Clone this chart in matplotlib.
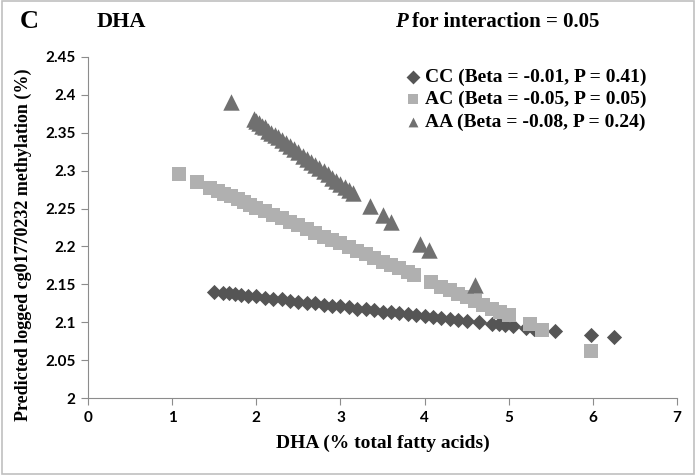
import numpy as np
import matplotlib.pyplot as plt
from matplotlib.patches import Rectangle

# predicted values per genotype group (DHA %, logged methylation)
cc_x = [1.5, 1.6, 1.68, 1.75, 1.82, 1.9, 2.0, 2.1, 2.2, 2.3, 2.4, 2.5, 2.6, 2.7,
        2.8, 2.9, 3.0, 3.1, 3.2, 3.3, 3.4, 3.5, 3.6, 3.7, 3.8, 3.9, 4.0, 4.1,
        4.2, 4.3, 4.4, 4.5, 4.65, 4.8, 4.88, 4.95, 5.05, 5.2, 5.3, 5.55, 5.98, 6.25]
cc_y = [2.140, 2.139, 2.138, 2.137, 2.136, 2.135, 2.134, 2.132, 2.131, 2.130,
        2.128, 2.127, 2.126, 2.125, 2.123, 2.122, 2.121, 2.120, 2.118, 2.117,
        2.116, 2.114, 2.113, 2.112, 2.111, 2.109, 2.108, 2.107, 2.105, 2.104,
        2.103, 2.102, 2.100, 2.098, 2.097, 2.096, 2.095, 2.093, 2.091, 2.088,
        2.083, 2.080]

ac_x = [1.08, 1.3, 1.45, 1.55, 1.62, 1.7, 1.78, 1.85, 1.92, 2.0, 2.1, 2.2, 2.3,
        2.4, 2.5, 2.6, 2.7, 2.8, 2.9, 3.0, 3.1, 3.2, 3.3, 3.4, 3.5, 3.6, 3.7,
        3.8, 3.88, 4.08, 4.2, 4.3, 4.4, 4.5, 4.6, 4.7, 4.8, 4.9, 5.0, 5.25, 5.4, 5.98]
ac_y = [2.295, 2.285, 2.277, 2.273, 2.269, 2.266, 2.262, 2.258, 2.255, 2.251,
        2.247, 2.242, 2.237, 2.232, 2.228, 2.223, 2.218, 2.213, 2.209, 2.204,
        2.199, 2.194, 2.190, 2.185, 2.180, 2.175, 2.171, 2.166, 2.162, 2.153,
        2.147, 2.142, 2.137, 2.133, 2.128, 2.123, 2.118, 2.114, 2.109, 2.097,
        2.090, 2.062]

aa_x = [1.7, 1.97, 2.0, 2.03, 2.07, 2.1, 2.14, 2.18, 2.22, 2.26, 2.3, 2.35, 2.4,
        2.45, 2.5, 2.55, 2.6, 2.65, 2.7, 2.75, 2.8, 2.85, 2.9, 2.95, 3.0, 3.05,
        3.1, 3.15, 3.35, 3.5, 3.6, 3.95, 4.05, 4.6]
aa_y = [2.390, 2.368, 2.365, 2.363, 2.359, 2.357, 2.353, 2.350, 2.347, 2.344,
        2.340, 2.336, 2.332, 2.328, 2.324, 2.319, 2.315, 2.311, 2.307, 2.303,
        2.299, 2.295, 2.290, 2.286, 2.282, 2.278, 2.274, 2.270, 2.253, 2.241,
        2.232, 2.203, 2.195, 2.149]

labels = ["CC (Beta = -0.01, P = 0.41)",
          "AC (Beta = -0.05, P = 0.05)",
          "AA (Beta = -0.08, P = 0.24)"]

x_ticks = [0, 1, 2, 3, 4, 5, 6, 7]
y_ticks = [2, 2.05, 2.1, 2.15, 2.2, 2.25, 2.3, 2.35, 2.4, 2.45]
y_ticklabels = ["2", "2.05", "2.1", "2.15", "2.2", "2.25", "2.3", "2.35", "2.4", "2.45"]

serif = "Liberation Serif"
sans = "Lato"

fig = plt.figure(figsize=(6.96, 4.75), dpi=100)
ax = fig.add_axes([88 / 696, 1 - 398 / 475, 589 / 696, 341 / 475])

ax.scatter(cc_x, cc_y, marker="D", s=60, color="#555555", linewidths=0, label=labels[0])
ax.scatter(ac_x, ac_y, marker="s", s=105, color="#b0b0b0", linewidths=0, label=labels[1])
ax.scatter(aa_x, aa_y, marker="^", s=140, color="#707070", linewidths=0, label=labels[2])

ax.set_xlim(0, 7)
ax.set_ylim(2, 2.45)
ax.set_xticks(x_ticks)
ax.set_yticks(y_ticks)
ax.set_yticklabels(y_ticklabels)
for lab in ax.get_xticklabels() + ax.get_yticklabels():
    lab.set_fontfamily(sans)
    lab.set_fontweight("bold")
    lab.set_fontsize(11)

for side in ["top", "right"]:
    ax.spines[side].set_visible(False)
for side in ["left", "bottom"]:
    ax.spines[side].set_color("#8c8c8c")
ax.tick_params(axis="both", direction="out", length=5, color="#8c8c8c", pad=4)

ax.set_xlabel("DHA (% total fatty acids)", fontfamily=serif, fontweight="bold",
              fontsize=14, labelpad=7)
ax.set_ylabel("Predicted logged cg01770232 methylation (%)", fontfamily=serif,
              fontweight="bold", fontsize=13, labelpad=6)
ax.yaxis.set_label_coords(-0.095, 0.45)

leg = ax.legend(loc="upper right", bbox_to_anchor=(566 / 589, 0.99), frameon=False,
                handlelength=0.7, handletextpad=0.25, borderaxespad=0,
                labelspacing=0.25, prop={"family": serif, "weight": "bold", "size": 14})
for h in leg.legend_handles:
    h.set_sizes([50])

fig.text(20 / 696, 1 - 22 / 475, "C", fontfamily=serif, fontweight="bold",
         fontsize=19, va="center")
fig.text(97 / 696, 1 - 22 / 475, "DHA", fontfamily=serif, fontweight="bold",
         fontsize=16, va="center")
fig.text(395 / 696, 1 - 22 / 475, "P", fontfamily=serif, fontweight="bold",
         fontstyle="italic", fontsize=15, va="center")
fig.text(412 / 696, 1 - 22 / 475, "for interaction = 0.05", fontfamily=serif,
         fontweight="bold", fontsize=15, va="center")

# thin frame round the whole chart
fig.patches.append(Rectangle((0.003, 0.003), 0.994, 0.994, transform=fig.transFigure,
                             fill=False, edgecolor="#c0c0c0", linewidth=1.2))

fig.savefig("out.png", dpi=100)
